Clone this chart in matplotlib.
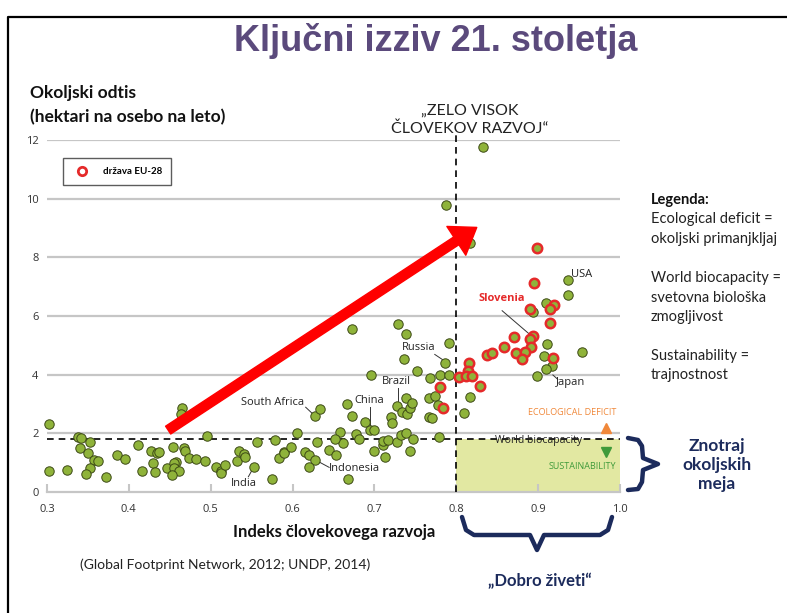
import matplotlib.pyplot as plt
from matplotlib.lines import Line2D
from matplotlib.patches import Rectangle

W, H = 787, 613

# podatki (HDI, ekološki odtis)
hdi_other = [0.302, 0.302, 0.325, 0.338, 0.342, 0.353, 0.340, 0.350, 0.357, 0.362,
             0.353, 0.348, 0.372, 0.386, 0.395, 0.411, 0.416, 0.427, 0.434, 0.437,
             0.430, 0.432, 0.446, 0.454, 0.458, 0.455, 0.455, 0.461, 0.453, 0.465,
             0.464, 0.467, 0.468, 0.474, 0.482, 0.493, 0.496, 0.506, 0.512, 0.513,
             0.517, 0.534, 0.541, 0.532, 0.542, 0.553, 0.556, 0.575, 0.579, 0.584,
             0.589, 0.590, 0.598, 0.606, 0.615, 0.620, 0.627, 0.620, 0.627, 0.633,
             0.630, 0.644, 0.653, 0.658, 0.661, 0.652, 0.667, 0.673, 0.668, 0.678,
             0.681, 0.688, 0.695, 0.699, 0.700, 0.713, 0.711, 0.710, 0.717, 0.728,
             0.732, 0.739, 0.747, 0.743, 0.720, 0.722, 0.728, 0.738, 0.734, 0.740,
             0.743, 0.746, 0.767, 0.774, 0.778, 0.767, 0.770, 0.779, 0.673, 0.729,
             0.738, 0.791, 0.786, 0.736, 0.752, 0.696, 0.768, 0.780, 0.791, 0.833,
             0.788, 0.817, 0.936, 0.937, 0.909, 0.894, 0.911, 0.953, 0.907, 0.917,
             0.910, 0.899, 0.817, 0.810]
ef_other = [2.32, 0.73, 0.75, 1.86, 1.83, 1.69, 1.51, 1.32, 1.09, 1.07,
            0.81, 0.61, 0.50, 1.26, 1.12, 1.60, 0.73, 1.40, 1.32, 1.37,
            0.98, 0.67, 0.81, 1.55, 1.03, 0.98, 0.81, 0.73, 0.57, 2.85,
            2.66, 1.51, 1.41, 1.15, 1.12, 1.06, 1.92, 0.86, 0.73, 0.64,
            0.92, 1.41, 1.29, 1.06, 1.18, 0.84, 1.72, 0.44, 1.77, 1.15,
            1.37, 1.32, 1.52, 2.02, 1.37, 1.26, 1.09, 0.86, 2.59, 2.83,
            1.72, 1.43, 1.26, 2.06, 1.68, 1.80, 2.99, 2.60, 0.43, 1.98,
            1.80, 2.40, 2.11, 2.11, 1.41, 1.18, 1.60, 1.75, 1.77, 1.69,
            1.94, 2.00, 1.80, 1.41, 2.55, 2.36, 2.94, 3.19, 2.72, 2.66,
            2.85, 3.02, 3.19, 3.28, 2.97, 2.57, 2.51, 1.89, 5.55, 5.72,
            5.38, 5.09, 4.41, 4.55, 4.14, 3.99, 3.90, 3.99, 3.99, 11.77,
            9.78, 8.48, 7.23, 6.73, 6.45, 6.15, 5.03, 4.78, 4.64, 4.31,
            4.18, 3.97, 3.23, 2.70]

hdi_eu = [0.899, 0.895, 0.919, 0.914, 0.890, 0.914, 0.871, 0.894, 0.890, 0.858,
          0.891, 0.837, 0.844, 0.873, 0.884, 0.880, 0.918, 0.816, 0.814, 0.803,
          0.812, 0.819, 0.829, 0.780, 0.784]
ef_eu = [8.31, 7.14, 6.38, 6.24, 6.24, 5.75, 5.30, 5.32, 5.22, 4.93,
         4.93, 4.67, 4.75, 4.73, 4.76, 4.53, 4.58, 4.39, 4.14, 3.93,
         3.95, 3.95, 3.61, 3.57, 2.85]

x_ticks = [0.3, 0.4, 0.5, 0.6, 0.7, 0.8, 0.9, 1.0]
y_ticks = [0, 2, 4, 6, 8, 10, 12]
world_biocapacity = 1.8

# oznake držav: (besedilo, položaj besedila, začetek in konec črte)
country_labels = ["USA", "Russia", "Brazil", "China", "South Africa", "Indonesia", "India", "Japan"]
label_pos = [(0.94, 7.43), (0.754, 4.94), (0.727, 3.78), (0.694, 3.11), (0.576, 3.04),
             (0.675, 0.81), (0.5405, 0.30), (0.94, 3.73)]
leader_lines = [None, ((0.7737, 4.69), (0.7839, 4.50)), ((0.729, 3.55), (0.729, 3.03)),
                ((0.694, 2.91), (0.694, 2.18)), ((0.616, 2.89), (0.624, 2.68)),
                ((0.6447, 0.84), (0.630, 1.06)), ((0.546, 0.52), (0.551, 0.77)),
                ((0.918, 3.99), (0.924, 3.84))]

GREEN = '#8fb33a'
EDGE = '#3d4a16'
RED = '#e52a2a'
NAVY = '#1c2b5c'
SANS = ['Lato', 'DejaVu Sans']
CHART = ['Open Sans', 'DejaVu Sans']


def px(x, y):
    return x / W, 1 - y / H


fig = plt.figure(figsize=(W / 100, H / 100), dpi=100)
ax = fig.add_axes([47 / W, 1 - 492 / H, 573 / W, 352 / H])
ax.set_xlim(0.3, 1.0)
ax.set_ylim(0, 12)
for s in ax.spines.values():
    s.set_visible(False)

# mreža
for y in y_ticks[1:]:
    ax.axhline(y, color='#c6c6c6', lw=1.6, zorder=1)
ax.axhline(0, color='#c6c6c6', lw=1.6, zorder=1, clip_on=False)

ax.set_xticks(x_ticks)
ax.set_xticklabels([f'{v:.1f}' for v in x_ticks])
ax.set_yticks(y_ticks)
ax.tick_params(axis='x', direction='in', length=6, width=1.5, color='#c6c6c6',
               labelsize=8, labelcolor='#333333', pad=9)
ax.tick_params(axis='y', length=0, labelsize=8, labelcolor='#333333', pad=6)
for t in ax.get_xticklabels() + ax.get_yticklabels():
    t.set_family(CHART)

# območje trajnostnosti
ax.add_patch(Rectangle((0.8, 0), 0.2, world_biocapacity, facecolor='#e2e8a2',
                       edgecolor='none', zorder=0.5))
ax.axhline(world_biocapacity, color='black', lw=1.2, ls=(0, (4, 3)), zorder=2)
ax.plot([0.8, 0.8], [0, 12.2], color='black', lw=1.2, ls=(0, (4, 3)), zorder=2, clip_on=False)

ax.text(0.995, 2.7, 'ECOLOGICAL DEFICIT', color='#f0883a', fontsize=6.5, ha='right',
        va='center', family=CHART)
ax.plot([0.983], [2.18], marker='^', color='#f0883a', ms=7, clip_on=False)
ax.text(0.9, 1.75, 'World biocapacity', color='#222222', fontsize=7.5, ha='center',
        va='center', family=CHART, zorder=3)
ax.plot([0.983], [1.35], marker='v', color='#3f9a3a', ms=7)
ax.text(0.995, 0.88, 'SUSTAINABILITY', color='#3f9a3a', fontsize=6.5, ha='right',
        va='center', family=CHART)

# točke
ax.scatter(hdi_other, ef_other, s=46, color=GREEN, edgecolor=EDGE, linewidth=0.7,
           zorder=4, clip_on=False)
ax.scatter(hdi_eu, ef_eu, s=46, color=GREEN, edgecolor=RED, linewidth=1.8,
           zorder=5, clip_on=False)

# oznake držav
for name, (tx, ty), line in zip(country_labels, label_pos, leader_lines):
    ax.text(tx, ty, name, fontsize=8, color='#222222', ha='left' if name == 'USA' else 'center',
            va='center', family=CHART, zorder=6)
    if line is not None:
        ax.plot([line[0][0], line[1][0]], [line[0][1], line[1][1]], color='#333333',
                lw=0.7, zorder=3)
ax.text(0.8556, 6.58, 'Slovenia', fontsize=8, color=RED, fontweight='bold', ha='center',
        va='center', family=CHART, zorder=6)
ax.plot([0.856, 0.889], [6.18, 5.39], color='#333333', lw=0.7, zorder=3)

# puščica
ax.annotate('', xy=(0.825, 9.02), xytext=(0.448, 2.11),
            arrowprops=dict(arrowstyle='simple,head_length=1.1,head_width=1.55,tail_width=0.42',
                            color='#ff0000', mutation_scale=16, shrinkA=0, shrinkB=0),
            zorder=7)

# legenda
handle = Line2D([0], [0], marker='o', color='w', markerfacecolor='white',
                markeredgecolor=RED, markeredgewidth=2, markersize=6)
leg = ax.legend([handle], ['država EU-28'], loc='upper left', bbox_to_anchor=(0.02, 0.962),
                frameon=True, fancybox=False, edgecolor='#333333', borderpad=0.9,
                handletextpad=1.2, prop={'family': SANS, 'weight': 'bold', 'size': 7})
leg.get_frame().set_linewidth(1.0)

# besedila okrog grafa
fig.text(*px(436, 41), 'Ključni izziv 21. stoletja', fontsize=26, fontweight='bold',
         color='#5b4a7c', ha='center', va='center',
         family=['Liberation Sans Narrow', 'Liberation Sans', 'DejaVu Sans'])
fig.text(*px(30, 93), 'Okoljski odtis', fontsize=12.5, fontweight='bold', ha='left',
         va='center', family=SANS, color='#111111')
fig.text(*px(30, 117), '(hektari na osebo na leto)', fontsize=12.5, fontweight='bold',
         ha='left', va='center', family=SANS, color='#111111')
fig.text(*px(470, 120), '„ZELO VISOK\nČLOVEKOV RAZVOJ“', fontsize=11.5, ha='center',
         va='center', family=SANS, color='#222222', linespacing=1.3)
fig.text(*px(334, 532), 'Indeks človekovega razvoja', fontsize=12, fontweight='bold',
         ha='center', va='center', family=SANS, color='#111111')
fig.text(*px(80, 565), '(Global Footprint Network, 2012; UNDP, 2014)', fontsize=10,
         ha='left', va='center', family=SANS, color='#222222')
fig.text(*px(540, 581), '„Dobro živeti“', fontsize=12, fontweight='bold', ha='center',
         va='center', family=SANS, color=NAVY)
fig.text(*px(717, 465), 'Znotraj\nokoljskih\nmeja', fontsize=12.5, fontweight='bold',
         ha='center', va='center', family=SANS, color=NAVY, linespacing=1.25)

legend_lines = ['Ecological deficit =', 'okoljski primanjkljaj', '',
                'World biocapacity =', 'svetovna biološka', 'zmogljivost', '',
                'Sustainability =', 'trajnostnost']
fig.text(*px(651, 200), 'Legenda:', fontsize=10.5, fontweight='bold', ha='left',
         va='center', family=SANS, color='#111111')
for i, line in enumerate(legend_lines):
    fig.text(*px(651, 219.5 + i * 19.5), line, fontsize=10.5, ha='left', va='center',
             family=SANS, color='#222222')

# oklepaja
bx = [462, 466, 474, 530, 537, 544, 600, 608, 612]
by = [517, 530, 535, 535, 550, 535, 535, 530, 517]
fig.add_artist(Line2D([x / W for x in bx], [1 - y / H for y in by], color=NAVY, lw=3.2,
                      solid_joinstyle='round', solid_capstyle='round'))
rx = [628, 638, 642, 643, 658, 643, 642, 638, 628]
ry = [438, 440, 446, 458, 464, 470, 482, 489, 490]
fig.add_artist(Line2D([x / W for x in rx], [1 - y / H for y in ry], color=NAVY, lw=3.2,
                      solid_joinstyle='round', solid_capstyle='round'))

# okvir
fig.add_artist(Line2D([8 / W, 8 / W, 1], [0, 1 - 17 / H, 1 - 17 / H], color='black', lw=1.6))

fig.savefig('out.png', dpi=100)
